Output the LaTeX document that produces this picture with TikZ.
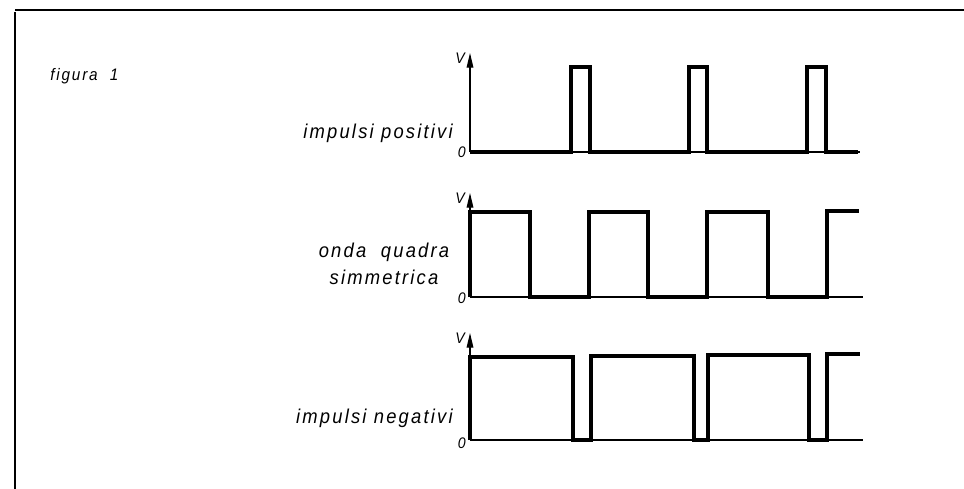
\documentclass[tikz,border=0pt]{standalone}
\usepackage{fontspec}
\setmainfont{Liberation Sans}
\newfontfamily\wavefont{Liberation Sans}[LetterSpace=11, FakeStretch=0.92]
\usetikzlibrary{arrows.meta}

\begin{document}
\begin{tikzpicture}[
    x=0.75pt, y=-0.75pt,
    >={Triangle[length=11pt,width=5pt]},
    frame/.style={line width=1pt},
    axis/.style={line width=0.9pt},
    wave/.style={line width=2.3pt, line join=miter},
    caption/.style={font=\wavefont\itshape\fontsize{15}{20.25}\selectfont, inner sep=0pt},
    tick/.style={font=\wavefont\itshape\fontsize{11.5}{13}\selectfont, inner sep=0pt},
  ]
  \useasboundingbox (0,0) rectangle (964,489);

  % --- frame ---
  \draw[frame] (15,10) -- (964,10);
  \draw[frame] (15,12) -- (15,489);
  \node[font=\wavefont\itshape\fontsize{12.5}{14}\selectfont, inner sep=0pt,
        anchor=base west] (fig) at (50,80) {figura\ \ 1};

  % --- impulsi positivi ---
  \coordinate (o1) at (470,152);
  \coordinate (v1) at (470,53);
  \coordinate (e1) at (860,152);
  \draw[axis,->] (o1) -- (v1);
  \draw[axis] (o1) -- (e1);
  \node[tick, anchor=base east] (V1) at (465,63) {V};
  \node[tick, anchor=base east] (z1) at (466,157) {0};
  \node[caption, anchor=base east] (pos) at (453,138) {impulsi positivi};
  \draw[wave] (o1) -- (571,152) -- (571,67) -- (590,67) -- (590,152)
    -- (689,152) -- (689,67) -- (707,67) -- (707,152)
    -- (807,152) -- (807,67) -- (826,67) -- (826,152) -- (858,152);

  % --- onda quadra simmetrica ---
  \coordinate (o2) at (470,297);
  \coordinate (v2) at (470,193);
  \coordinate (e2) at (863,297);
  \draw[axis,->] (o2) -- (v2);
  \draw[axis] (o2) -- (e2);
  \node[tick, anchor=base east] (V2) at (465,203) {V};
  \node[tick, anchor=base east] (z2) at (466,303) {0};
  \node[caption, align=center] (quad) at (384,264) {onda\ \ quadra\\simmetrica};
  \draw[wave] (o2) -- (470,212) -- (530,212) -- (530,297) -- (589,297)
    -- (589,212) -- (648,212) -- (648,297) -- (707,297)
    -- (707,212) -- (768,212) -- (768,297) -- (827,297)
    -- (827,211) -- (859,211);

  % --- impulsi negativi ---
  \coordinate (o3) at (470,440);
  \coordinate (v3) at (470,333);
  \coordinate (e3) at (863,440);
  \draw[axis,->] (o3) -- (v3);
  \draw[axis] (o3) -- (e3);
  \node[tick, anchor=base east] (V3) at (465,343) {V};
  \node[tick, anchor=base east] (z3) at (466,448) {0};
  \node[caption, anchor=base east] (neg) at (453,423) {impulsi negativi};
  \draw[wave] (o3) -- (470,357) -- (573,357) -- (573,440) -- (591,440)
    -- (591,356) -- (694,356) -- (694,440) -- (708,440)
    -- (708,355) -- (809,355) -- (809,440) -- (827,440)
    -- (827,354) -- (860,354);
\end{tikzpicture}
\end{document}
